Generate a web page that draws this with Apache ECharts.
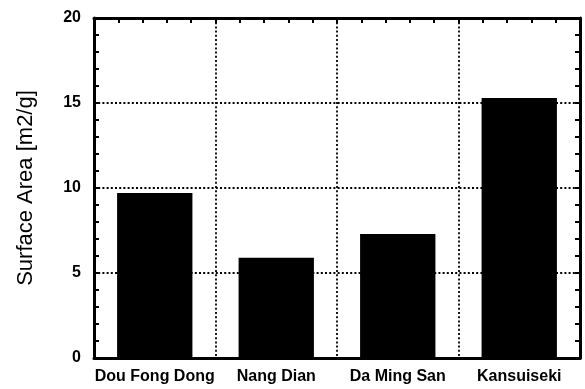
<!DOCTYPE html>
<html>
<head>
<meta charset="utf-8">
<script src="https://cdn.jsdelivr.net/npm/echarts@6/dist/echarts.min.js"></script>
<style>
  html, body { margin: 0; padding: 0; background: #fff; }
  #chart { width: 585px; height: 389px; }
</style>
</head>
<body>
<div id="chart"></div>
<script>
// Samples and their measured surface area
const categories = ['Dou Fong Dong', 'Nang Dian', 'Da Ming San', 'Kansuiseki'];
const surfaceArea = [9.7, 5.9, 7.3, 15.3];
const yTicks = [0, 5, 10, 15, 20];

const FONT = '"Liberation Sans", Arial, Helvetica, sans-serif';
const dotted = { color: '#000', width: 1.8, type: [2, 2.2] };
const frame = { show: true, onZero: false, lineStyle: { color: '#000', width: 3 } };
const tickStyle = { color: '#000', width: 2 };

const chart = echarts.init(document.getElementById('chart'), null, { renderer: 'canvas' });
chart.setOption({
  animation: false,
  backgroundColor: '#fff',
  grid: { left: 94, right: 5, top: 18, bottom: 31, containLabel: false },
  xAxis: [
    {
      type: 'category',
      data: categories,
      position: 'bottom',
      axisLine: frame,
      axisTick: { show: false },
      axisLabel: { interval: 0, color: '#000', fontFamily: FONT, fontSize: 16, fontWeight: 'bold', margin: 11 },
      splitLine: { show: true, interval: 0, lineStyle: dotted }
    },
    {
      // top frame with tick marks
      type: 'value',
      position: 'top',
      min: 0, max: categories.length, interval: 1,
      axisLine: frame,
      axisTick: { show: true, inside: true, length: 5, lineStyle: tickStyle },
      minorTick: { show: true, splitNumber: 5, length: 5, lineStyle: tickStyle },
      axisLabel: { show: false },
      splitLine: { show: false }
    }
  ],
  yAxis: [
    {
      type: 'value',
      position: 'left',
      min: yTicks[0], max: yTicks[yTicks.length - 1], interval: 5,
      name: 'Surface Area [m2/g]',
      nameLocation: 'middle',
      nameGap: 57,
      nameTextStyle: { color: '#000', fontFamily: FONT, fontSize: 22 },
      axisLine: frame,
      axisTick: { show: true, inside: true, length: 5, lineStyle: tickStyle },
      minorTick: { show: true, splitNumber: 5, length: 5, lineStyle: tickStyle },
      axisLabel: { color: '#000', fontFamily: FONT, fontSize: 16, fontWeight: 'bold', margin: 13,
        formatter: v => yTicks.includes(v) ? String(v) : '' },
      splitLine: { show: true, lineStyle: dotted }
    },
    {
      // right frame with tick marks
      type: 'value',
      position: 'right',
      min: yTicks[0], max: yTicks[yTicks.length - 1], interval: 5,
      axisLine: frame,
      axisTick: { show: true, inside: true, length: 5, lineStyle: tickStyle },
      minorTick: { show: true, splitNumber: 5, length: 5, lineStyle: tickStyle },
      axisLabel: { show: false },
      splitLine: { show: false }
    }
  ],
  series: [
    {
      type: 'bar',
      xAxisIndex: 0,
      yAxisIndex: 0,
      data: surfaceArea,
      barWidth: '62%',
      itemStyle: { color: '#000' },
      z: 3
    }
  ]
});
</script>
</body>
</html>
